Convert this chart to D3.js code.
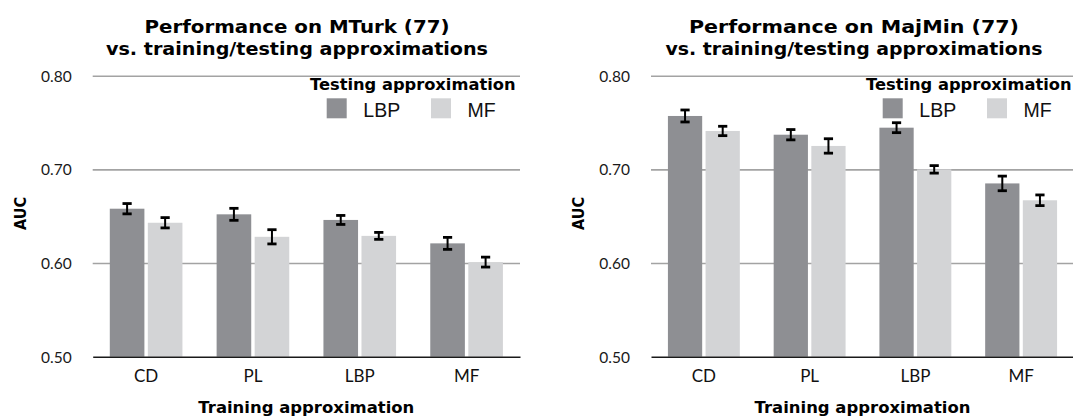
<!DOCTYPE html>
<html>
<head>
<meta charset="utf-8">
<script src="https://cdn.jsdelivr.net/npm/d3@7"></script>
<style>
  html, body { margin: 0; padding: 0; background: #fff; }
  svg { display: block; }
</style>
</head>
<body>
<svg id="chart" width="1073" height="418"></svg>
<script>
// ---- data ----
const categories = ["CD", "PL", "LBP", "MF"];
const seriesNames = ["LBP", "MF"];
const yTicks = [0.50, 0.60, 0.70, 0.80];

const mturkTitle = ["Performance on MTurk (77)", "vs. training/testing approximations"];
const mturkLBP = [0.658, 0.652, 0.646, 0.621];
const mturkLBPErr = [0.0055, 0.0064, 0.0048, 0.0064];
const mturkMF = [0.643, 0.628, 0.629, 0.601];
const mturkMFErr = [0.0055, 0.0076, 0.0037, 0.0053];

const majminTitle = ["Performance on MajMin (77)", "vs. training/testing approximations"];
const majminLBP = [0.757, 0.737, 0.7445, 0.685];
const majminLBPErr = [0.0064, 0.0055, 0.0053, 0.0078];
const majminMF = [0.741, 0.725, 0.700, 0.667];
const majminMFErr = [0.0050, 0.0077, 0.0040, 0.0057];

const yLabel = "AUC";
const xLabel = "Training approximation";
const legendTitle = "Testing approximation";

// ---- styles ----
const colors = { LBP: "#8e8f93", MF: "#d3d4d6" };
const boldFont = "'DejaVu Sans', sans-serif";
const regFont = "Lato, 'Liberation Sans', sans-serif";

const svg = d3.select("#chart");

function drawChart(cfg) {
  const g = svg.append("g");
  const x0 = d3.scaleBand().domain(categories).range([cfg.left, cfg.right])
    .paddingInner(0.32).paddingOuter(0.16);
  const x1 = d3.scaleBand().domain(seriesNames).range([0, x0.bandwidth()]).paddingInner(0.09);
  const y = d3.scaleLinear().domain([0.5, 0.8]).range([356.7, 75.7]);

  // gridlines
  const grid = g.append("g").attr("transform", `translate(${cfg.left},0)`)
    .call(d3.axisLeft(y).tickValues(yTicks.slice(1)).tickSize(-(cfg.right - cfg.left)).tickFormat(""));
  grid.select(".domain").remove();
  grid.selectAll(".tick line").attr("stroke", "#a3a3a3").attr("stroke-width", 1.6);

  // y tick labels
  const yAxis = g.append("g").attr("transform", `translate(${cfg.left - 21},0)`)
    .call(d3.axisLeft(y).tickValues(yTicks).tickSize(0).tickPadding(0).tickFormat(d3.format(".2f")));
  yAxis.select(".domain").remove();
  yAxis.selectAll("text").attr("font-family", regFont).attr("font-size", 15.5)
    .attr("fill", "#1a1a1a").attr("dy", "0.36em");

  // bars
  const rows = categories.map((c, i) => ({
    cat: c,
    vals: [
      { s: "LBP", v: cfg.lbp[i], e: cfg.lbpErr[i] },
      { s: "MF", v: cfg.mf[i], e: cfg.mfErr[i] }
    ]
  }));
  const groups = g.selectAll(".grp").data(rows).join("g")
    .attr("transform", d => `translate(${x0(d.cat)},0)`);
  groups.selectAll("rect").data(d => d.vals).join("rect")
    .attr("x", d => x1(d.s)).attr("width", x1.bandwidth())
    .attr("y", d => y(d.v)).attr("height", d => y(0.5) - y(d.v))
    .attr("fill", d => colors[d.s]);

  // error bars
  const eb = groups.selectAll(".eb").data(d => d.vals).join("g")
    .attr("transform", d => `translate(${x1(d.s) + x1.bandwidth() / 2},0)`);
  eb.append("line").attr("x1", 0).attr("x2", 0)
    .attr("y1", d => y(d.v + d.e)).attr("y2", d => y(d.v - d.e))
    .attr("stroke", "#000").attr("stroke-width", 2);
  eb.append("line").attr("x1", -4.6).attr("x2", 4.6)
    .attr("y1", d => y(d.v + d.e)).attr("y2", d => y(d.v + d.e))
    .attr("stroke", "#000").attr("stroke-width", 2.8);
  eb.append("line").attr("x1", -4.6).attr("x2", 4.6)
    .attr("y1", d => y(d.v - d.e)).attr("y2", d => y(d.v - d.e))
    .attr("stroke", "#000").attr("stroke-width", 2.8);

  // x axis
  const xAxis = g.append("g").attr("transform", `translate(0,${y(0.5)})`)
    .call(d3.axisBottom(x0).tickSize(0).tickPadding(13));
  xAxis.select(".domain").attr("stroke", "#1a1a1a").attr("stroke-width", 1.6);
  xAxis.selectAll("text").attr("font-family", regFont).attr("font-size", 17)
    .attr("fill", "#111").attr("dy", "0.71em");

  // titles
  const tc = cfg.titleCenter;
  g.append("text").attr("x", tc).attr("y", 32.5).attr("text-anchor", "middle")
    .attr("font-family", boldFont).attr("font-weight", "bold").attr("font-size", 17.4)
    .attr("textLength", cfg.t1Len).attr("lengthAdjust", "spacingAndGlyphs")
    .text(cfg.title[0]);
  g.append("text").attr("x", tc).attr("y", 55).attr("text-anchor", "middle")
    .attr("font-family", boldFont).attr("font-weight", "bold").attr("font-size", 17.4)
    .attr("textLength", cfg.t2Len).attr("lengthAdjust", "spacingAndGlyphs")
    .text(cfg.title[1]);

  // y label
  g.append("text").attr("transform", `translate(${cfg.left - 72.2 + 5.5},213.5) rotate(-90)`)
    .attr("text-anchor", "middle").attr("font-family", boldFont).attr("font-weight", "bold")
    .attr("font-size", 15.5).attr("textLength", 33).attr("lengthAdjust", "spacingAndGlyphs")
    .text(yLabel);

  // x label
  g.append("text").attr("x", (cfg.left + cfg.right) / 2).attr("y", 413)
    .attr("text-anchor", "middle").attr("font-family", boldFont).attr("font-weight", "bold")
    .attr("font-size", 15).attr("textLength", 216).attr("lengthAdjust", "spacingAndGlyphs")
    .text(xLabel);

  // legend
  const ls = cfg.legendStart;
  const lg = g.append("g");
  lg.append("text").attr("x", ls).attr("y", 90).attr("font-family", boldFont)
    .attr("font-weight", "bold").attr("font-size", 15.5)
    .attr("textLength", 205.5).attr("lengthAdjust", "spacingAndGlyphs").text(legendTitle);
  const items = lg.selectAll(".li").data(seriesNames).join("g")
    .attr("transform", (d, i) => `translate(${ls + 16.7 + i * 104.3},0)`);
  items.append("rect").attr("x", 0).attr("y", 98.3).attr("width", 20).attr("height", 20)
    .attr("fill", d => colors[d]);
  items.append("text").attr("x", 36.6).attr("y", 116.7)
    .attr("font-family", "'Liberation Sans', Arial, sans-serif").attr("font-size", 19.5)
    .attr("fill", "#111").text(d => d);
}

drawChart({
  left: 92.7, right: 520, title: mturkTitle, titleCenter: 297, t1Len: 305, t2Len: 382,
  lbp: mturkLBP, lbpErr: mturkLBPErr, mf: mturkMF, mfErr: mturkMFErr, legendStart: 310
});
drawChart({
  left: 651, right: 1074, title: majminTitle, titleCenter: 854, t1Len: 330, t2Len: 377,
  lbp: majminLBP, lbpErr: majminLBPErr, mf: majminMF, mfErr: majminMFErr, legendStart: 866
});
</script>
</body>
</html>
